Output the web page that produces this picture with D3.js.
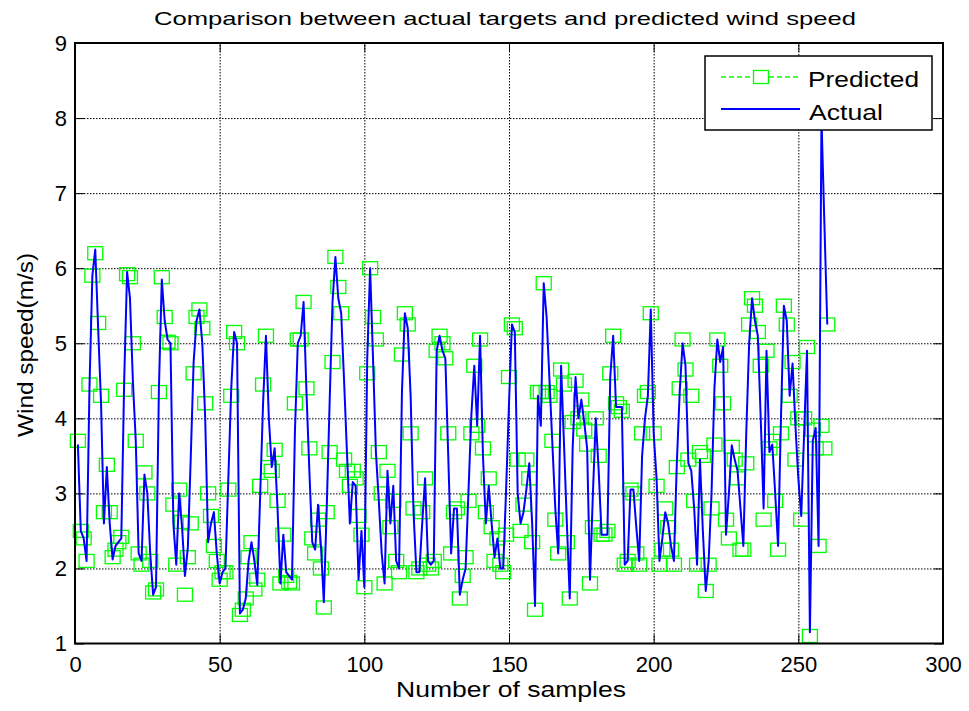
<!DOCTYPE html>
<html>
<head>
<meta charset="utf-8">
<script src="https://cdnjs.cloudflare.com/ajax/libs/d3/7.8.5/d3.min.js"></script>
<style>
  body { margin: 0; background: #fff; }
  text { font-family: "Liberation Sans", Arial, Helvetica, sans-serif; fill: #000; }
</style>
</head>
<body>
<svg id="chart" width="969" height="711"></svg>
<script>
// sample index 1..260
const samples = d3.range(1, 261);

const actual = [
  3.65, 2.5, 2.4, 2.1, 4.4, 5.9, 6.25, 5.2, 4.2, 2.6,
  3.35, 2.6, 2.12, 2.3, 2.35, 2.4, 4.5, 5.95, 5.6, 4.5,
  3.7, 2.2, 2.1, 3.25, 3.0, 2.2, 1.65, 1.75, 4.4, 5.85,
  5.3, 5.05, 5.0, 2.6, 2.05, 3.0, 2.55, 1.9, 2.28, 3.47,
  4.75, 5.3, 5.45, 5.0, 4.0, 2.35, 2.6, 2.75, 2.2, 1.8,
  1.95, 2.0, 3.2, 4.4, 5.15, 5.0, 1.4, 1.45, 1.6, 2.1,
  2.35, 2.1, 1.78, 2.97, 4.2, 5.1, 4.0, 3.35, 3.6, 2.8,
  1.8, 2.45, 1.95, 1.9, 1.85, 3.8, 5.0, 5.1, 5.55, 4.35,
  3.3, 2.35, 2.25, 2.85, 2.3, 1.55, 2.8, 4.2, 5.55, 6.15,
  5.6, 5.4, 4.5, 3.54, 2.6, 3.15, 3.1, 1.85, 2.5, 1.75,
  4.8, 6.0, 4.8, 3.55, 2.9, 2.2, 1.8, 3.3, 2.6, 3.1,
  2.1, 2.0, 4.35, 5.4, 5.2, 4.3, 2.75, 1.95, 1.95, 2.6,
  3.2, 2.1, 2.05, 2.1, 4.9, 5.1, 4.9, 4.8, 3.5, 2.2,
  2.8, 2.8, 1.65, 1.85, 2.0, 3.03, 4.05, 4.7, 3.9, 5.1,
  3.5, 2.6, 3.1, 2.6, 2.15, 2.4, 2.0, 2.0, 3.05, 4.2,
  5.25, 5.15, 3.0, 2.6, 2.75, 3.05, 3.4, 2.6, 1.5, 4.3,
  3.9, 5.8, 5.35, 4.5, 3.65, 2.8, 2.2, 4.7, 3.67, 2.6,
  1.6, 3.6, 4.55, 4.0, 4.25, 3.95, 3.6, 1.85, 3.0, 4.0,
  3.3, 2.45, 2.45, 2.45, 4.55, 5.1, 4.15, 4.15, 4.15, 2.05,
  2.1, 3.05, 3.05, 2.55, 2.1, 3.5, 4.0, 4.3, 5.45, 3.8,
  3.2, 2.1, 2.4, 2.75, 2.6, 2.3, 2.1, 3.4, 4.35, 5.0,
  4.7, 3.4, 3.3, 2.8, 2.05, 3.45, 2.5, 1.7, 2.1, 3.0,
  4.4, 5.05, 4.75, 4.95, 2.45, 3.0, 3.64, 3.45, 3.3, 2.8,
  2.3, 3.8, 5.0, 5.6, 5.3, 5.1, 4.0, 2.8, 4.9, 3.55,
  3.65, 3.0, 2.3, 4.0, 5.5, 5.3, 4.3, 4.73, 3.9, 3.2,
  2.7, 3.8, 4.9, 1.15, 3.7, 3.87, 2.3, 8.0, 6.6, 5.25
];

const predicted = [
  3.7, 2.5, 2.4, 2.1, 4.45, 5.9, 6.2, 5.27, 4.3, 2.75,
  3.38, 2.75, 2.15, 2.25, 2.35, 2.42, 4.38, 5.92, 5.88, 5.0,
  3.7, 2.2, 2.05, 3.28, 3.0, 2.1, 1.68, 1.72, 4.35, 5.88,
  5.35, 5.02, 5.0, 2.85, 2.05, 3.05, 2.62, 1.65, 2.15, 2.6,
  4.6, 5.35, 5.45, 5.2, 4.2, 3.0, 2.7, 2.3, 2.1, 1.85,
  1.95, 1.95, 3.05, 4.3, 5.15, 5.0, 1.38, 1.45, 1.6, 2.15,
  2.35, 1.72, 1.85, 3.1, 4.45, 5.1, 3.35, 3.3, 3.58, 2.9,
  1.8, 2.45, 1.9, 1.82, 1.8, 4.2, 5.05, 5.05, 5.55, 4.4,
  3.6, 2.4, 2.2, 2.65, 2.0, 1.48, 2.75, 3.55, 4.75, 6.15,
  5.75, 5.4, 3.45, 3.3, 3.1, 3.3, 3.2, 2.7, 2.45, 1.75,
  4.6, 6.0, 5.35, 5.05, 3.55, 3.0, 1.8, 3.3, 2.55, 2.9,
  2.1, 1.95, 4.85, 5.4, 5.25, 3.8, 2.8, 1.95, 2.0, 2.75,
  3.2, 2.05, 2.0, 2.1, 4.9, 5.1, 5.0, 4.8, 3.8, 2.2,
  2.75, 2.8, 1.6, 1.9, 2.15, 2.9, 3.8, 4.7, 3.9, 5.05,
  3.6, 2.75, 3.2, 2.55, 2.1, 2.4, 2.05, 1.95, 2.45, 4.55,
  5.25, 5.2, 3.45, 2.5, 2.85, 3.45, 3.2, 2.35, 1.45, 4.35,
  4.35, 5.8, 4.35, 4.3, 3.7, 2.65, 2.2, 4.65, 4.45, 2.35,
  1.6, 3.95, 4.5, 4.0, 4.25, 3.85, 3.65, 1.8, 2.55, 4.0,
  3.5, 2.45, 2.45, 2.5, 4.6, 5.1, 4.2, 4.15, 4.1, 2.05,
  2.1, 3.05, 3.0, 2.2, 2.05, 3.8, 4.3, 4.35, 5.4, 3.8,
  3.1, 2.05, 2.25, 2.8, 2.55, 2.25, 2.05, 3.35, 4.4, 5.05,
  4.65, 3.45, 4.3, 2.9, 2.05, 3.55, 3.5, 1.7, 2.05, 2.8,
  3.65, 5.05, 4.7, 4.2, 2.65, 2.4, 3.62, 3.45, 3.2, 2.25,
  2.25, 3.4, 5.25, 5.6, 5.5, 5.15, 4.7, 2.65, 4.9, 3.6,
  3.7, 2.9, 2.25, 3.8, 5.5, 5.25, 4.3, 4.75, 3.45, 4.0,
  2.65, 4.0, 4.95, 1.1, 3.85, 3.6, 2.3, 3.9, 3.6, 5.25
];

const xTicks = [0, 50, 100, 150, 200, 250, 300];
const yTicks = [1, 2, 3, 4, 5, 6, 7, 8, 9];
const seriesNames = ["Predicted", "Actual"];

const svg = d3.select("#chart");
svg.append("rect").attr("width", 969).attr("height", 711).attr("fill", "#fff");

const plotL = 75, plotR = 943, plotT = 43, plotB = 643.5;
const x = d3.scaleLinear().domain([0, 300]).range([plotL, plotR]);
const y = d3.scaleLinear().domain([1, 9]).range([plotB, plotT]);

// grid (dotted)
const grid = svg.append("g").attr("class", "grid");
grid.append("g")
    .attr("transform", `translate(0,${plotB})`)
    .call(d3.axisBottom(x).tickValues(xTicks.slice(1, -1)).tickSize(-(plotB - plotT)).tickFormat(""));
grid.append("g")
    .attr("transform", `translate(${plotL},0)`)
    .call(d3.axisLeft(y).tickValues(yTicks.slice(1, -1)).tickSize(-(plotR - plotL)).tickFormat(""));
grid.selectAll(".domain").remove();
grid.selectAll("line").attr("stroke", "#000").attr("stroke-width", 1).attr("stroke-dasharray", "1.5,1.5");

// predicted markers
const data = samples.map((s, i) => ({ s, a: actual[i], p: predicted[i] }));
svg.append("g").selectAll("rect")
    .data(data)
    .join("rect")
    .attr("x", d => x(d.s) - 7.5)
    .attr("y", d => y(d.p) - 6.5)
    .attr("width", 15)
    .attr("height", 13)
    .attr("fill", "none")
    .attr("stroke", "#00ff00")
    .attr("stroke-width", 1.3);

// actual line
svg.append("path")
    .datum(data)
    .attr("fill", "none")
    .attr("stroke", "#0000ff")
    .attr("stroke-width", 2)
    .attr("stroke-linejoin", "round")
    .attr("d", d3.line().x(d => x(d.s)).y(d => y(d.a)));

// axes with inward ticks
const tickLen = 9;
const axB = svg.append("g").attr("transform", `translate(0,${plotB})`)
    .call(d3.axisBottom(x).tickValues(xTicks).tickSizeInner(-tickLen).tickSizeOuter(0).tickPadding(13));
const axL = svg.append("g").attr("transform", `translate(${plotL},0)`)
    .call(d3.axisLeft(y).tickValues(yTicks).tickSizeInner(-tickLen).tickSizeOuter(0).tickPadding(8));
const axT = svg.append("g").attr("transform", `translate(0,${plotT})`)
    .call(d3.axisTop(x).tickValues(xTicks).tickSizeInner(-tickLen).tickSizeOuter(0).tickFormat(""));
const axR = svg.append("g").attr("transform", `translate(${plotR},0)`)
    .call(d3.axisRight(y).tickValues(yTicks).tickSizeInner(-tickLen).tickSizeOuter(0).tickFormat(""));
[axB, axL, axT, axR].forEach(a => {
    a.select(".domain").remove();
    a.selectAll("line").attr("stroke", "#000").attr("stroke-width", 1);
    a.selectAll("text").attr("font-size", 22).attr("font-family", null);
});

svg.append("rect")
    .attr("x", plotL).attr("y", plotT)
    .attr("width", plotR - plotL).attr("height", plotB - plotT)
    .attr("fill", "none").attr("stroke", "#000").attr("stroke-width", 2);

// title and axis labels
svg.append("text")
    .attr("x", 505).attr("y", 25)
    .attr("text-anchor", "middle")
    .attr("font-size", 19)
    .attr("textLength", 702).attr("lengthAdjust", "spacingAndGlyphs")
    .text("Comparison between actual targets and predicted wind speed");

svg.append("text")
    .attr("x", 511).attr("y", 697)
    .attr("text-anchor", "middle")
    .attr("font-size", 22)
    .attr("textLength", 230).attr("lengthAdjust", "spacingAndGlyphs")
    .text("Number of samples");

svg.append("text")
    .attr("transform", "translate(33,345) rotate(-90)")
    .attr("text-anchor", "middle")
    .attr("font-size", 22)
    .attr("textLength", 184).attr("lengthAdjust", "spacingAndGlyphs")
    .text("Wind speed(m/s)");

// legend
const lg = svg.append("g");
lg.append("rect")
    .attr("x", 705).attr("y", 56).attr("width", 227).attr("height", 74)
    .attr("fill", "#fff").attr("stroke", "#000").attr("stroke-width", 1.5);
lg.append("line")
    .attr("x1", 721).attr("x2", 800).attr("y1", 77).attr("y2", 77)
    .attr("stroke", "#00ff00").attr("stroke-width", 1.3).attr("stroke-dasharray", "5,3");
lg.append("rect")
    .attr("x", 753.5).attr("y", 70.5).attr("width", 15).attr("height", 13)
    .attr("fill", "#fff").attr("stroke", "#00ff00").attr("stroke-width", 1.3);
lg.append("line")
    .attr("x1", 721).attr("x2", 800).attr("y1", 109).attr("y2", 109)
    .attr("stroke", "#0000ff").attr("stroke-width", 2);
lg.append("text")
    .attr("x", 808).attr("y", 87).attr("font-size", 22)
    .attr("textLength", 111).attr("lengthAdjust", "spacingAndGlyphs")
    .text(seriesNames[0]);
lg.append("text")
    .attr("x", 809).attr("y", 120).attr("font-size", 22)
    .attr("textLength", 74).attr("lengthAdjust", "spacingAndGlyphs")
    .text(seriesNames[1]);
</script>
</body>
</html>
